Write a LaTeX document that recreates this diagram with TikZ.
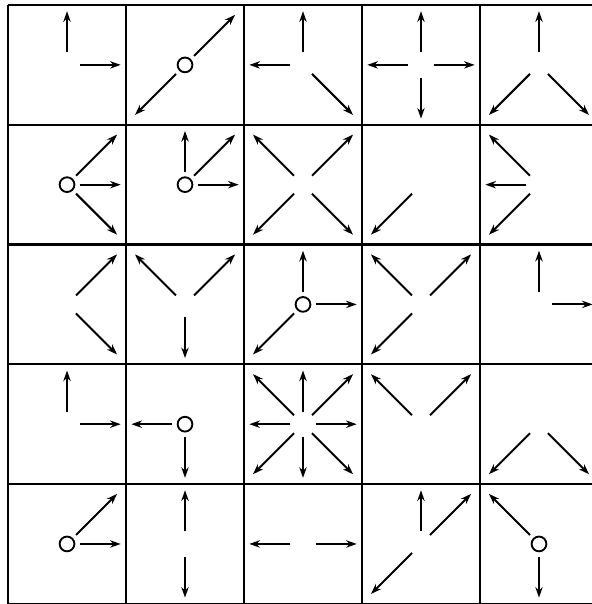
\documentclass[tikz,border=0pt]{standalone}
\usetikzlibrary{arrows.meta}

\begin{document}
\begin{tikzpicture}[
    cellline/.style={line width=1.1pt},
    vec/.style={line width=0.95pt, -{Stealth[length=1.8mm,width=1.25mm]}},
    hole/.style={circle, draw, line width=0.9pt, minimum size=2.5mm, inner sep=0pt},
  ]
  \useasboundingbox (-0.136,0.085) rectangle (9.898,-10.153);

  % the 5x5 table
  \foreach \i in {0,...,5} {
    \draw[cellline] (2*\i,0) -- (2*\i,-10.15);
    \draw[cellline] (0,-2.03*\i) -- (10,-2.03*\i);
  }

  % column/row/circle/directions of each cell
  \foreach \c/\r/\o/\dirs in {
      0/0/0/{90,0}, 1/0/1/{45,225}, 2/0/0/{180,90,-45}, 3/0/0/{90,180,0,-90}, 4/0/0/{90,225,-45},
      0/1/1/{45,0,-45}, 1/1/1/{90,45,0}, 2/1/0/{135,45,225,-45}, 3/1/0/{225}, 4/1/0/{135,180,225},
      0/2/0/{45,-45}, 1/2/0/{135,45,-90}, 2/2/1/{225,90,0}, 3/2/0/{135,45,225}, 4/2/0/{90,0},
      0/3/0/{90,0}, 1/3/1/{180,-90}, 2/3/0/{0,45,90,135,180,225,270,315}, 3/3/0/{135,45}, 4/3/0/{225,-45},
      0/4/1/{45,0}, 1/4/0/{90,-90}, 2/4/0/{180,0}, 3/4/0/{90,45,225}, 4/4/1/{135,-90}} {
    \coordinate (cell-\c-\r) at (2*\c+1,-2.03*\r-1.015);
    \ifnum\o=1
      \node[hole] (hole-\c-\r) at (cell-\c-\r) {};
    \fi
    \foreach \a in \dirs {
      \pgfmathsetmacro{\len}{ifthenelse(mod(\a,90)==0,0.91,1.2)}
      \draw[vec] ([shift={(\a:0.215)}]cell-\c-\r) -- ([shift={(\a:\len)}]cell-\c-\r);
    }
  }
\end{tikzpicture}
\end{document}
